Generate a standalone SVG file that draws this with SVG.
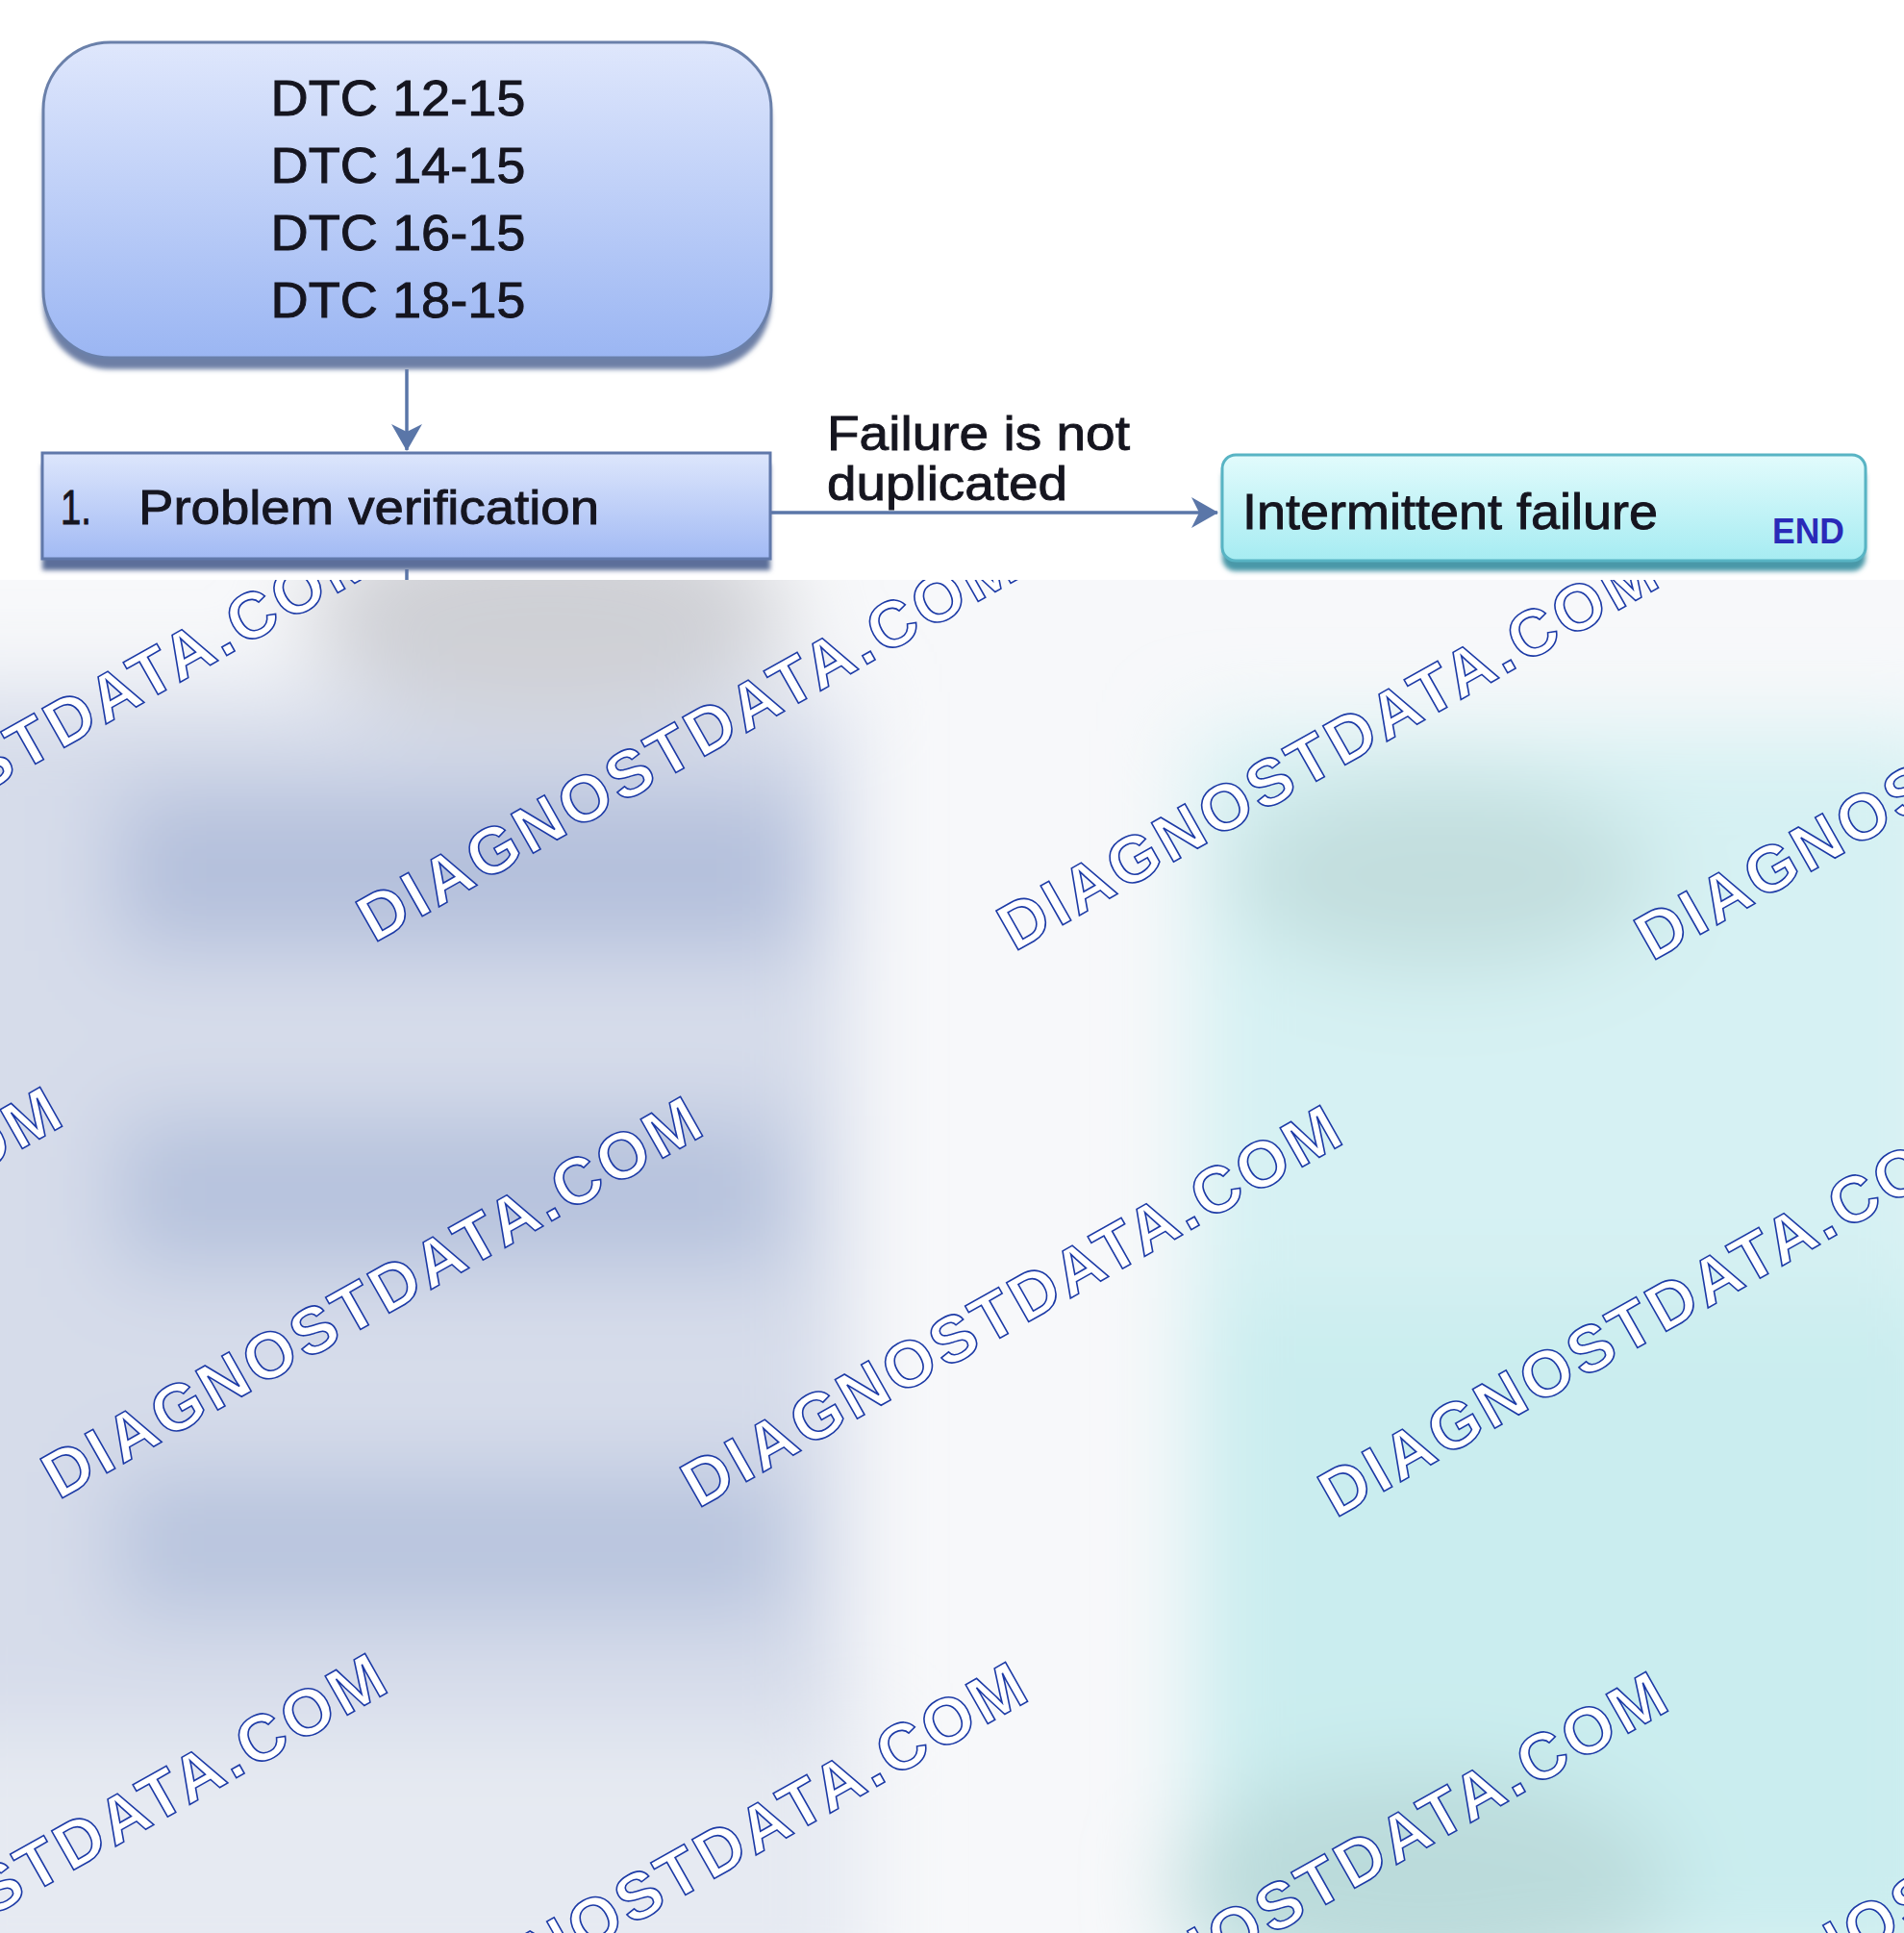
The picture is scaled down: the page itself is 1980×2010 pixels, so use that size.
<svg xmlns="http://www.w3.org/2000/svg" width="1980" height="2010" viewBox="0 0 1980 2010">
<style>
.lbl{font-family:"Liberation Sans",Arial,sans-serif;fill:#15151f;stroke:#15151f;stroke-width:0.9}
.wm{font-family:"Liberation Sans",Arial,sans-serif;font-weight:bold;font-size:68px;fill:#ffffff;stroke:#1c3aa6;stroke-width:1.6}
.conn{stroke:#5a76a8;stroke-width:3.5;fill:none}
</style>
<defs>
<linearGradient id="gBlue" x1="0" y1="0" x2="0" y2="1">
<stop offset="0" stop-color="#dfe7fc"/>
<stop offset="1" stop-color="#9bb6f3"/>
</linearGradient>
<linearGradient id="gBlue2" x1="0" y1="0" x2="0" y2="1">
<stop offset="0" stop-color="#dde6fc"/>
<stop offset="1" stop-color="#a2baf4"/>
</linearGradient>
<linearGradient id="gCyan" x1="0" y1="0" x2="0" y2="1">
<stop offset="0" stop-color="#e2fbfc"/>
<stop offset="1" stop-color="#a6ecf2"/>
</linearGradient>
<filter id="blurBg" x="-50%" y="-50%" width="200%" height="200%">
<feGaussianBlur stdDeviation="45"/>
</filter>
<filter id="sh" x="-10%" y="-10%" width="120%" height="130%">
<feGaussianBlur stdDeviation="2.5"/>
</filter>
<clipPath id="lower">
<rect x="0" y="603" width="1980" height="1407"/>
</clipPath>
<marker id="arr" viewBox="0 0 28 36" refX="27" refY="18" markerWidth="28" markerHeight="36" markerUnits="userSpaceOnUse" orient="auto">
<path d="M0,2 L28,18 L0,34 L8,18 z" fill="#5a76a8"/>
</marker>
</defs>

<rect x="0" y="0" width="1980" height="2010" fill="#ffffff"/>

<g id="background" clip-path="url(#lower)">
<rect x="0" y="603" width="1980" height="1407" fill="#f7f8fa"/>
<g filter="url(#blurBg)">
<rect x="-100" y="720" width="980" height="1100" fill="#d6dcea"/>
<rect x="-100" y="1800" width="1000" height="300" fill="#e6eaf2"/>
<ellipse cx="570" cy="640" rx="250" ry="110" fill="#cfd0d5"/>
<rect x="120" y="820" width="720" height="170" fill="#b4c0dc"/>
<rect x="120" y="1160" width="700" height="160" fill="#b6c2dd"/>
<rect x="120" y="1530" width="700" height="150" fill="#b8c4de"/>
<rect x="1240" y="760" width="800" height="1300" fill="#d6f1f3"/>
<ellipse cx="1500" cy="910" rx="220" ry="100" fill="#c2dede"/>
<rect x="1250" y="1350" width="800" height="700" fill="#caedef"/>
<ellipse cx="1480" cy="1960" rx="260" ry="120" fill="#bbdbdb"/>
</g>
</g>

<g id="watermarks" clip-path="url(#lower)">
<text class="wm" textLength="774" transform="translate(-277 972) rotate(-29.5)">DIAGNOSTDATA.COM</text>
<text class="wm" textLength="774" transform="translate(389 981) rotate(-29.5)">DIAGNOSTDATA.COM</text>
<text class="wm" textLength="774" transform="translate(1055 990) rotate(-29.5)">DIAGNOSTDATA.COM</text>
<text class="wm" textLength="774" transform="translate(1718 1000) rotate(-29.5)">DIAGNOSTDATA.COM</text>
<text class="wm" textLength="774" transform="translate(-605 1550) rotate(-29.5)">DIAGNOSTDATA.COM</text>
<text class="wm" textLength="774" transform="translate(61 1560) rotate(-29.5)">DIAGNOSTDATA.COM</text>
<text class="wm" textLength="774" transform="translate(726 1569) rotate(-29.5)">DIAGNOSTDATA.COM</text>
<text class="wm" textLength="774" transform="translate(1389 1579) rotate(-29.5)">DIAGNOSTDATA.COM</text>
<text class="wm" textLength="774" transform="translate(-267 2139) rotate(-29.5)">DIAGNOSTDATA.COM</text>
<text class="wm" textLength="774" transform="translate(399 2148) rotate(-29.5)">DIAGNOSTDATA.COM</text>
<text class="wm" textLength="774" transform="translate(1065 2158) rotate(-29.5)">DIAGNOSTDATA.COM</text>
<text class="wm" textLength="774" transform="translate(1726 2152) rotate(-29.5)">DIAGNOSTDATA.COM</text>
</g>

<g id="connectors">
<line class="conn" x1="423" y1="384" x2="423" y2="468" marker-end="url(#arr)"/>
<line class="conn" x1="423" y1="592" x2="423" y2="603"/>
<line class="conn" x1="802" y1="533" x2="1266" y2="533" marker-end="url(#arr)"/>
<text class="lbl" x="860" y="468" font-size="50" textLength="315" lengthAdjust="spacingAndGlyphs">Failure is not</text>
<text class="lbl" x="860" y="520" font-size="50" textLength="250" lengthAdjust="spacingAndGlyphs">duplicated</text>
</g>

<g id="node-dtc">
<rect x="45" y="56" width="757" height="328" rx="70" fill="#6d7fa6" filter="url(#sh)"/>
<rect x="45" y="44" width="757" height="328" rx="70" fill="url(#gBlue)" stroke="#6a80aa" stroke-width="3"/>
<text class="lbl" x="414" y="120" font-size="51" text-anchor="middle" textLength="265" lengthAdjust="spacingAndGlyphs">DTC 12-15</text>
<text class="lbl" x="414" y="190" font-size="51" text-anchor="middle" textLength="265" lengthAdjust="spacingAndGlyphs">DTC 14-15</text>
<text class="lbl" x="414" y="260" font-size="51" text-anchor="middle" textLength="265" lengthAdjust="spacingAndGlyphs">DTC 16-15</text>
<text class="lbl" x="414" y="330" font-size="51" text-anchor="middle" textLength="265" lengthAdjust="spacingAndGlyphs">DTC 18-15</text>
</g>

<g id="node-verification">
<rect x="44" y="483" width="757" height="110" fill="#5c6e9a" filter="url(#sh)"/>
<rect x="44" y="471" width="757" height="110" fill="url(#gBlue2)" stroke="#6078aa" stroke-width="3"/>
<text class="lbl" x="63" y="545" font-size="50" textLength="32" lengthAdjust="spacingAndGlyphs">1.</text>
<text class="lbl" x="144" y="545" font-size="50" textLength="479" lengthAdjust="spacingAndGlyphs">Problem verification</text>
</g>

<g id="node-intermittent">
<rect x="1271" y="484" width="669" height="110" rx="14" fill="#4a98a8" filter="url(#sh)"/>
<rect x="1271" y="473" width="669" height="110" rx="14" fill="url(#gCyan)" stroke="#58b4c4" stroke-width="3"/>
<text class="lbl" x="1292" y="550" font-size="52" textLength="432" lengthAdjust="spacingAndGlyphs">Intermittent failure</text>
<text x="1843" y="565" font-family="Liberation Sans, Arial, sans-serif" font-weight="bold" font-size="36" fill="#2a2ab8" textLength="75" lengthAdjust="spacingAndGlyphs">END</text>
</g>
</svg>
